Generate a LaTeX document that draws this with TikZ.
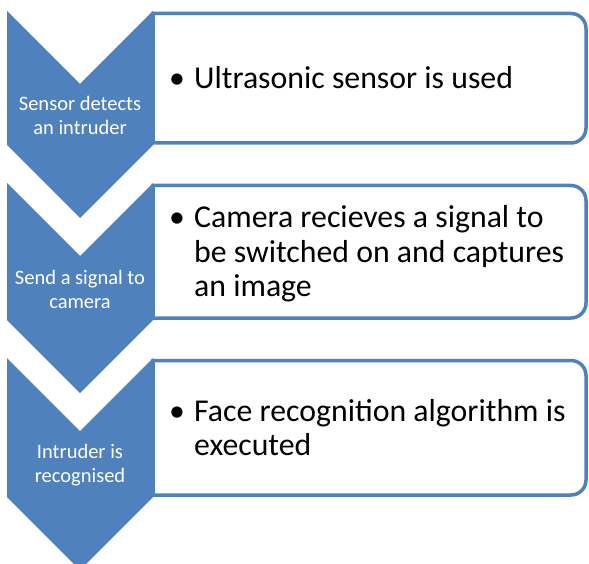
\documentclass[tikz,border=0pt]{standalone}
\usepackage{fontspec}
\setmainfont{Carlito}
\definecolor{stepblue}{HTML}{4F81BD}

\begin{document}
\begin{tikzpicture}[x=1pt,y=-1pt,
        chevron/.style={fill=stepblue},
        infobox/.style={draw=stepblue,fill=white,line width=3.5pt},
        steplabel/.style={text=white,align=center,inner sep=0pt,font=\fontsize{20.5}{24}\selectfont},
        infotext/.style={anchor=west,inner sep=0pt,font=\fontsize{31.8}{34.5}\selectfont}]
        % Define dimensions
        \def\chevL{7}
        \def\chevR{153}
        \def\chevM{80}
        \def\point{73}
        \def\boxR{586}
        \def\bulletgap{25pt}
        \useasboundingbox (0,0) rectangle (589,564);
        % Draw the three steps
        \foreach \i/\ytop/\yside/\lab/\txt in {
            1/11/145/{Sensor detects\\an intruder}/{Ultrasonic sensor is used},
            2/183/320/{Send a signal to\\camera}/{Camera recieves a signal to\\be switched on and captures\\an image},
            3/358/497/{Intruder is\\recognised}/{Face recognition algorithm is\\executed}}{
            % Box on the right
            \draw[infobox] (\chevR,\ytop+2.5) [rounded corners=15pt] -- (\boxR,\ytop+2.5) -- (\boxR,\yside-2) [sharp corners] -- (\chevR,\yside-2) -- cycle;
            % Chevron on the left
            \fill[chevron] (\chevL,\ytop) -- (\chevM,\ytop+\point) -- (\chevR,\ytop) -- (\chevR,\yside) -- (\chevM,\yside+\point) -- (\chevL,\yside) -- cycle;
            \node[steplabel] (lab\i) at (\chevM,{(\ytop+\point+\yside)/2+1}) {\lab};
            \node[infotext] (txt\i) at (169,{(\ytop+\yside)/2+4}) {\makebox[\bulletgap][l]{\textbullet}\begin{tabular}[t]{@{}l@{}}\txt\end{tabular}};
        }
    \end{tikzpicture}
\end{document}
